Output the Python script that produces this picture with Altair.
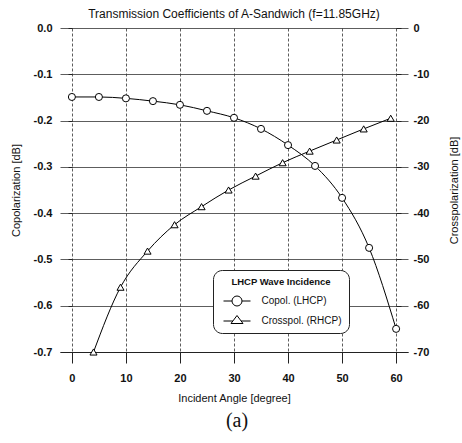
import altair as alt
import pandas as pd

# ---- data ----
angle_co = [0, 5, 10, 15, 20, 25, 30, 35, 40, 45, 50, 55, 60]
copol = [-0.149, -0.149, -0.152, -0.158, -0.166, -0.179, -0.194, -0.218, -0.253, -0.298, -0.367, -0.475, -0.650]
angle_cx = [4, 9, 14, 19, 24, 29, 34, 39, 44, 49, 54, 59]
crosspol = [-70.0, -56.0, -48.2, -42.5, -38.6, -35.0, -32.0, -29.1, -26.6, -24.2, -21.8, -19.5]
series = ["Copol. (LHCP)", "Crosspol. (RHCP)"]
x_ticks = [0, 5, 10, 15, 20, 25, 30, 35, 40, 45, 50, 55, 60]
left_ticks = [round(-0.7 + 0.05 * i, 2) for i in range(15)]
right_ticks = list(range(-70, 1, 5))
title_text = "Transmission Coefficients of A-Sandwich (f=11.85GHz)"
legend_title = "LHCP Wave Incidence"
caption_text = "(a)"

co_df = pd.DataFrame({"angle": angle_co, "copol": copol})
cx_df = pd.DataFrame({"angle": angle_cx, "crosspol": crosspol})
leg_df = pd.DataFrame({"series": series})
cap_df = pd.DataFrame({"t": [caption_text]})

FONT = "Liberation Sans"
INK = "#111111"

x_scale = alt.Scale(domain=[-2.2, 62.2], nice=False, zero=False)
x_axis = alt.Axis(
    values=x_ticks, title="Incident Angle [degree]",
    labelExpr="datum.value % 10 === 0 ? datum.label : ''",
    tickSize={"condition": {"test": "datum.value % 10 === 0", "value": 11}, "value": 6},
    labelPadding=9, labelFont=FONT, labelFontSize=11, labelColor=INK, labelFontWeight="bold",
    titleFont=FONT, titleFontSize=11, titleFontWeight="normal", titleColor=INK, titlePadding=9,
    tickColor="#222", tickWidth=1, domainColor="#222", domainWidth=1,
    grid=True, gridColor="#333", gridWidth=0.8, gridDash=[3, 2],
    gridOpacity={"condition": {"test": "datum.value % 10 === 0", "value": 1}, "value": 0},
)

left_axis = alt.Axis(
    values=left_ticks, title="Copolarization [dB]", orient="left", offset=-12,
    labelExpr="abs(round(datum.value*20)) % 2 === 0 ? replace(format(datum.value, '.1f'), '\u2212', '-') : ''",
    tickSize=4, tickColor="#222", domain=False, labelPadding=16,
    labelFont=FONT, labelFontSize=11, labelColor=INK, labelFontWeight="bold",
    titleFont=FONT, titleFontSize=11, titleFontWeight="normal", titleColor=INK, titlePadding=12,
    grid=True, gridColor="#333", gridWidth=0.8,
    gridOpacity={"condition": {"test": "abs(round(datum.value*20)) % 2 === 0", "value": 1}, "value": 0},
)

right_axis = alt.Axis(
    values=right_ticks, title="Crosspolarization [dB]", orient="right", offset=-12,
    labelExpr="datum.value % 10 === 0 ? replace(format(datum.value, 'd'), '\u2212', '-') : ''",
    tickSize=5, tickColor="#222", domain=False, labelPadding=12, grid=False,
    labelFont=FONT, labelFontSize=11, labelColor=INK, labelFontWeight="bold",
    titleFont=FONT, titleFontSize=11, titleFontWeight="normal", titleColor=INK,
    titleAngle=270, titlePadding=31,
)

co_line = alt.Chart(co_df).mark_line(interpolate="monotone", color="black", strokeWidth=1).encode(
    x=alt.X("angle:Q", scale=x_scale, axis=x_axis),
    y=alt.Y("copol:Q", scale=alt.Scale(domain=[-0.7, 0.0], nice=False, zero=False), axis=left_axis),
)
co_pts = alt.Chart(co_df).mark_point(shape="circle", size=50, filled=True, fill="white",
                                     stroke="black", strokeWidth=1, opacity=1).encode(
    x=alt.X("angle:Q"), y=alt.Y("copol:Q"),
)
cx_line = alt.Chart(cx_df).mark_line(interpolate="monotone", color="black", strokeWidth=1).encode(
    x=alt.X("angle:Q"),
    y=alt.Y("crosspol:Q", scale=alt.Scale(domain=[-70, 0], nice=False, zero=False), axis=right_axis),
)
cx_pts = alt.Chart(cx_df).mark_point(shape="triangle-up", size=50, filled=True, fill="white",
                                     stroke="black", strokeWidth=1, opacity=1).encode(
    x=alt.X("angle:Q"), y=alt.Y("crosspol:Q"),
)

circ_path = ("M-2.7,0L-1,0M1,0L2.7,0M1,0A1,1,0,1,1,-1,0A1,1,0,1,1,1,0")
tri_path = ("M-2.7,0L-0.83,0M0.83,0L2.7,0M0,-1.1L1.2,0.5L-1.2,0.5Z")

legend_layer = alt.Chart(leg_df).mark_point(filled=False, color="black", opacity=1).encode(
    shape=alt.Shape(
        "series:N",
        scale=alt.Scale(domain=series, range=[circ_path, tri_path]),
        legend=alt.Legend(
            title=legend_title, orient="none", legendX=153, legendY=242,
            fillColor="white", strokeColor="#222", cornerRadius=9, padding=7,
            titleFont=FONT, titleFontSize=9.5, titleFontWeight="bold", titleColor=INK,
            titleAnchor="middle", titlePadding=9,
            labelFont=FONT, labelFontSize=10, labelColor=INK,
            symbolSize=100, symbolStrokeColor="black", symbolStrokeWidth=1,
            symbolFillColor="white", symbolOffset=11.5, labelOffset=19, rowPadding=5,
        ),
    )
).transform_filter("false")

caption = alt.Chart(cap_df).mark_text(font="Liberation Serif", fontSize=20, color=INK,
                                      baseline="middle", align="center").encode(
    x=alt.value(177), y=alt.value(393), text="t:N"
)

left = alt.layer(co_line, co_pts)
right = alt.layer(cx_line, cx_pts)

chart = alt.layer(left, right, legend_layer, caption).resolve_scale(y="independent").properties(
    width=348, height=324,
    title=alt.TitleParams(title_text, font=FONT, fontSize=12, fontWeight="normal", color=INK,
                          anchor="middle", offset=1),
    autosize=alt.AutoSizeParams(type="none"),
    padding={"left": 60, "top": 28, "right": 54, "bottom": 91},
    background="white",
).configure_view(stroke=None)

chart.save("out.html", embed_options={"renderer": "svg", "actions": False})
